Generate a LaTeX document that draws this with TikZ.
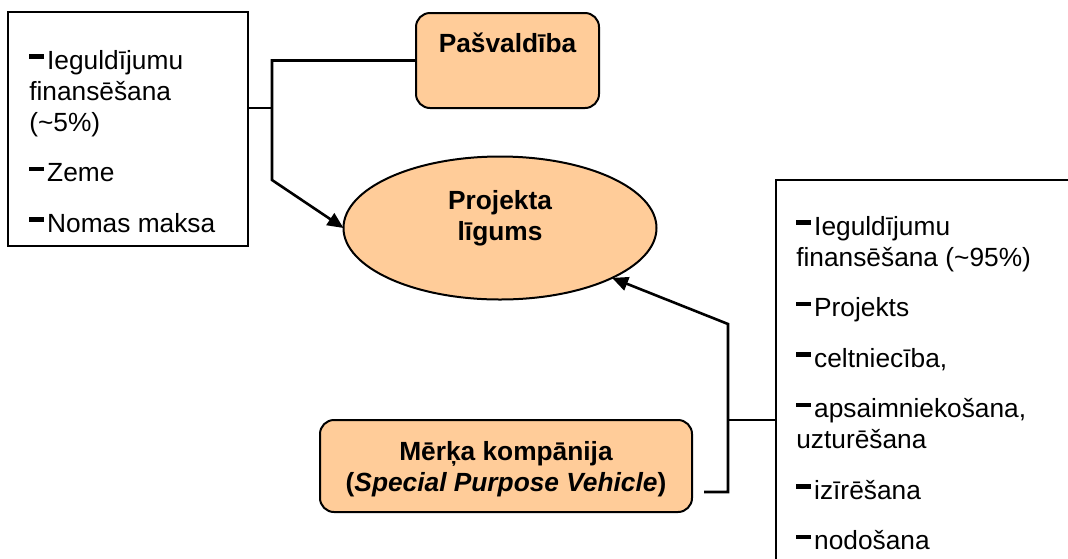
\documentclass[tikz,border=0pt]{standalone}
\usepackage{fontspec}
\setmainfont{Liberation Sans}
\usetikzlibrary{shapes.geometric, arrows.meta, positioning, calc}

\definecolor{peach}{RGB}{255,204,153}
\newcommand{\itemdash}{\rule[0.41em]{0.56em}{0.17em}\kern0.12em}

\begin{document}
\begin{tikzpicture}[
        x = 1pt, y = -1pt,
        > = {Triangle[width=14pt,length=16pt]},
        line width = 2.6pt,
        listbox/.style = {
            draw,
            rectangle,
            fill = white,
            line width = 2pt,
            inner sep = 0pt,
            outer sep = 0pt
        },
        block/.style = {
            draw,
            rectangle,
            rounded corners = 14pt,
            fill = peach,
            line width = 2pt,
            inner sep = 0pt,
            outer sep = 0pt
        },
        contract/.style = {
            draw,
            ellipse,
            fill = peach,
            line width = 2pt,
            inner sep = 0pt,
            outer sep = 0pt,
            minimum width = 313pt,
            minimum height = 143pt
        },
        listtext/.style = {align=left, inner sep=0pt, anchor=north west, font=\fontsize{26.3}{31}\selectfont},
        titletext/.style = {align=center, inner sep=0pt, anchor=north, font=\fontsize{26.3}{31}\selectfont\bfseries},
        tie/.style = {line width=1.6pt}
    ]

        \useasboundingbox (0,0) rectangle (1068,558);
        \clip (0,0) rectangle (1068,558);
        \fill[white] (0,0) rectangle (1068,558);

        % left list
        \node[listbox, minimum width=240pt, minimum height=234pt, anchor=north west] (leftbox) at (8,12) {};
        \node[listtext] (lefttext) at ([shift={(20,37)}]leftbox.north west)
            {\itemdash Ieguldījumu\\finansēšana\\(\textasciitilde5\%)\\[19.5pt]\itemdash Zeme\\[19.5pt]\itemdash Nomas maksa};

        \node[block, minimum width=183pt, minimum height=95pt] (pasv) at (507.5,60.5) {};
        \node[titletext] (pasvtext) at ([shift={(0,19)}]pasv.north) {Pašvaldība};

        \node[contract] (ligums) at (500,228) {};
        \node[titletext] (ligumstext) at ([shift={(0,-39)}]ligums.center) {Projekta\\līgums};

        \node[block, minimum width=372pt, minimum height=92pt] (merka) at (506,466) {};
        \node[titletext] (merkatext) at ([shift={(0,20)}]merka.north)
            {Mērķa kompānija\\(\textit{Special Purpose Vehicle})};

        % right list, runs off the page
        \node[listbox, minimum width=400pt, minimum height=500pt, anchor=north west] (rightbox) at (776,180) {};
        \node[listtext] (righttext) at ([shift={(19,35)}]rightbox.north west)
            {\itemdash Ieguldījumu\\finansēšana (\textasciitilde95\%)\\[19.5pt]\itemdash Projekts\\[19.5pt]\itemdash celtniecība,\\[19.5pt]\itemdash apsaimniekošana,\\uzturēšana\\[19.5pt]\itemdash izīrēšana\\[19.5pt]\itemdash nodošana};

        \coordinate (jointL) at (272,180);
        \coordinate (tieL) at (272,108);
        \draw[->] (pasv.west) -| (jointL) -- (ligums.west);
        \draw[tie] (tieL -| leftbox.east) -- (tieL);

        \coordinate (merkaout) at ([shift={(12,26)}]merka.east);
        \coordinate (jointR) at (728,324);
        \coordinate (tieR) at (728,420);
        \draw[->] (merkaout) -| (jointR) -- (ligums.-24);
        \draw[tie] (tieR) -- (tieR -| rightbox.west);

    \end{tikzpicture}
\end{document}
